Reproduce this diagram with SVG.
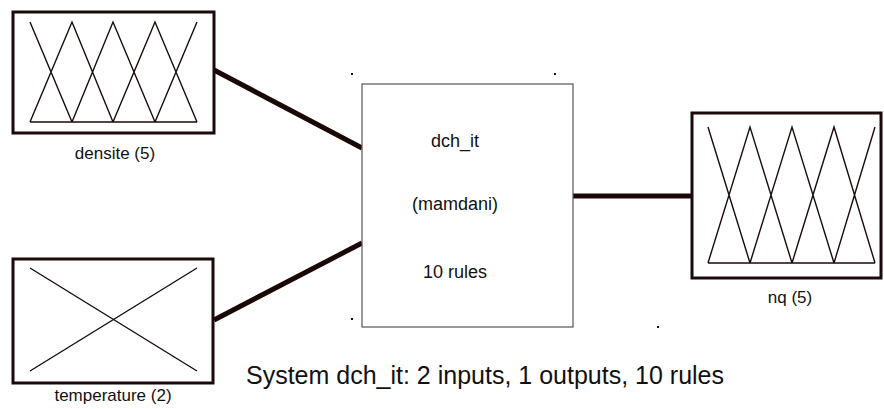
<svg xmlns="http://www.w3.org/2000/svg" width="884" height="409" viewBox="0 0 884 409">
  <style>
    .frame { fill: #ffffff; stroke: #1a0a0a; stroke-width: 3; }
    .mf { fill: none; stroke: #1a0a0a; stroke-width: 1.4; stroke-linejoin: miter; }
    .sys { fill: #ffffff; stroke: #555555; stroke-width: 1.2; }
    .conn { fill: none; stroke: #1a0808; stroke-width: 5; }
    .lbl { font-family: "Liberation Sans", Arial, sans-serif; font-size: 17px; fill: #111111; text-anchor: middle; }
    .in { font-family: "Liberation Sans", Arial, sans-serif; font-size: 18px; fill: #111111; text-anchor: middle; }
    .cap { font-family: "Liberation Sans", Arial, sans-serif; font-size: 25px; fill: #111111; text-anchor: middle; }
    .dot { fill: #111111; }
  </style>
  <rect width="884" height="409" fill="#ffffff"/>
  <g id="connectors">
    <line class="conn" x1="214" y1="70" x2="362" y2="148"/>
    <line class="conn" x1="214" y1="320" x2="362" y2="243"/>
    <line class="conn" x1="573" y1="196" x2="692" y2="196"/>
  </g>
  <g id="densite">
    <rect class="frame" x="13" y="12" width="201" height="121"/>
    <path class="mf" d="M30,22 L72,122 M30,122 L72,22 L113,122 M72,122 L113,22 L155,122 M113,122 L155,22 L197,122 M155,122 L197,22 M30,122 L197,122"/>
    <text class="lbl" x="115" y="159">densite (5)</text>
  </g>
  <g id="temperature">
    <rect class="frame" x="13" y="259" width="200" height="124"/>
    <path class="mf" d="M30,268 L197,371 M30,371 L197,268"/>
    <text class="lbl" x="113" y="401">temperature (2)</text>
  </g>
  <g id="dch_it">
    <rect class="sys" x="362" y="84" width="211" height="243"/>
    <text class="in" x="455" y="147">dch_it</text>
    <text class="in" x="455" y="210">(mamdani)</text>
    <text class="in" x="455" y="278">10 rules</text>
  </g>
  <g id="nq">
    <rect class="frame" x="692" y="113" width="189" height="165"/>
    <path class="mf" d="M708,127 L750,263 M708,263 L750,127 L792,263 M750,263 L792,127 L834,263 M792,263 L834,127 L875,263 M834,263 L875,127 M708,263 L875,263"/>
    <text class="lbl" x="790" y="303">nq (5)</text>
  </g>
  <g id="marks">
    <rect class="dot" x="351" y="73" width="2" height="2"/>
    <rect class="dot" x="554" y="73" width="2" height="2"/>
    <rect class="dot" x="351" y="318" width="2" height="2"/>
    <rect class="dot" x="657" y="326" width="2" height="2"/>
  </g>
  <text class="cap" x="485" y="384">System dch_it: 2 inputs, 1 outputs, 10 rules</text>
</svg>
